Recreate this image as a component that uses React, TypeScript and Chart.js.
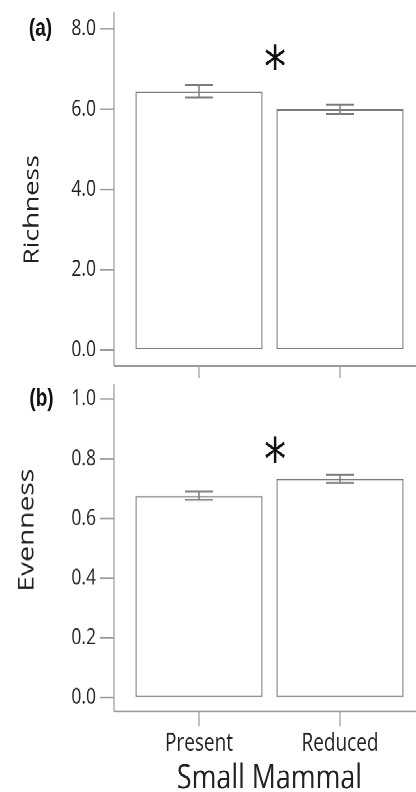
import React, { useEffect, useRef } from 'react';
import { Chart, registerables } from 'chart.js';

Chart.register(...registerables);

// ---------- data ----------
const CATEGORIES = ['Present', 'Reduced'];

const RICHNESS = [6.45, 6.0];
const RICHNESS_LOW = [6.3, 5.88];
const RICHNESS_HIGH = [6.6, 6.12];
const RICHNESS_TICKS = [0, 2, 4, 6, 8];

const EVENNESS = [0.675, 0.733];
const EVENNESS_LOW = [0.662, 0.719];
const EVENNESS_HIGH = [0.69, 0.747];
const EVENNESS_TICKS = [0, 0.2, 0.4, 0.6, 0.8, 1.0];

// significance marker: x (category index space) and y (value)
const SIG_X = 0.54;
const RICHNESS_SIG_Y = 7.3;
const EVENNESS_SIG_Y = 0.832;

const X_TITLE = 'Small Mammal';

// ---------- layout ----------
const S = 1.28; // vertical stretch of the reference
const W = 416;
const TOTAL_H = 792 / S;
const r = (y: number) => y / S;
const AREA_LEFT = 128.5;
const AREA_RIGHT = 410.5;
const AXIS_X = 114;
const TICK_LEN = 14;
const FONT = "'Open Sans', sans-serif";
const TEXT = '#222222';
const AXIS_COLOR = '#9a9a9a';
const BAR_BORDER = '#7c7c7c';
const ERR_COLOR = '#7c7c7c';

const A_TOP = 0;
const A_H = 298;
const B_TOP = 298;
const B_H = TOTAL_H - B_TOP;

const PANELS = [
  {
    key: 'a',
    top: A_TOP,
    height: A_H,
    values: RICHNESS,
    low: RICHNESS_LOW,
    high: RICHNESS_HIGH,
    ticks: RICHNESS_TICKS,
    min: 0,
    max: 8,
    sigY: RICHNESS_SIG_Y,
    areaTop: r(29) - A_TOP,
    areaBottom: r(350) - A_TOP,
    axisTop: r(12) - A_TOP,
    frame: r(366) - A_TOP,
    tickEnd: r(378) - A_TOP,
    label: '(a)',
    labelX: 40.5,
    labelY: r(29) - A_TOP,
    title: 'Richness',
    titleX: 32.5,
    titleY: r(210) - A_TOP,
    titleSize: 21,
    showX: false,
  },
  {
    key: 'b',
    top: B_TOP,
    height: B_H,
    values: EVENNESS,
    low: EVENNESS_LOW,
    high: EVENNESS_HIGH,
    ticks: EVENNESS_TICKS,
    min: 0,
    max: 1,
    sigY: EVENNESS_SIG_Y,
    areaTop: r(399) - B_TOP,
    areaBottom: r(697) - B_TOP,
    axisTop: r(384) - B_TOP,
    frame: r(711) - B_TOP,
    tickEnd: r(726) - B_TOP,
    label: '(b)',
    labelX: 41.5,
    labelY: r(399) - B_TOP,
    title: 'Evenness',
    titleX: 27,
    titleY: r(530) - B_TOP,
    titleSize: 22,
    showX: true,
  },
];

type PanelCfg = (typeof PANELS)[number];

function line(ctx: CanvasRenderingContext2D, x1: number, y1: number, x2: number, y2: number) {
  ctx.beginPath();
  ctx.moveTo(x1, y1);
  ctx.lineTo(x2, y2);
  ctx.stroke();
}

function makeDecor(p: PanelCfg) {
  return {
    id: 'decor_' + p.key,
    afterDraw(chart: any) {
      const ctx = chart.ctx as CanvasRenderingContext2D;
      const xs = chart.scales.x;
      const ys = chart.scales.y;
      ctx.save();
      // axis lines
      ctx.strokeStyle = AXIS_COLOR;
      ctx.lineWidth = 1.2;
      line(ctx, AXIS_X, p.axisTop, AXIS_X, p.frame);
      line(ctx, AXIS_X, p.frame, W, p.frame);
      // y tick marks
      for (const v of p.ticks) {
        const y = ys.getPixelForValue(v);
        line(ctx, AXIS_X - TICK_LEN, y, AXIS_X, y);
      }
      // x tick marks
      CATEGORIES.forEach((_, i) => {
        const x = xs.getPixelForValue(i);
        line(ctx, x, p.frame, x, p.tickEnd);
      });

      // error bars
      ctx.strokeStyle = ERR_COLOR;
      ctx.lineWidth = 1.5;
      CATEGORIES.forEach((_, i) => {
        const x = xs.getPixelForValue(i);
        const yl = ys.getPixelForValue(p.low[i]);
        const yh = ys.getPixelForValue(p.high[i]);
        line(ctx, x, yl, x, yh);
        line(ctx, x - 14, yl, x + 14, yl);
        line(ctx, x - 14, yh, x + 14, yh);
      });

      // significance asterisk
      ctx.fillStyle = '#111111';
      ctx.font = `40px 'DejaVu Sans'`;
      let m = ctx.measureText('*');
      const bw = m.actualBoundingBoxLeft + m.actualBoundingBoxRight || 20;
      const size = (40 * 20) / bw;
      ctx.font = `${size}px 'DejaVu Sans'`;
      m = ctx.measureText('*');
      ctx.textAlign = 'center';
      ctx.textBaseline = 'alphabetic';
      const sx = xs.getPixelForValue(SIG_X);
      const sy = ys.getPixelForValue(p.sigY);
      ctx.fillText('*', sx, sy + (m.actualBoundingBoxAscent - m.actualBoundingBoxDescent) / 2);

      // panel label
      ctx.fillStyle = '#111111';
      ctx.font = `bold 19px 'Liberation Sans', Arial, sans-serif`;
      ctx.textAlign = 'center';
      ctx.textBaseline = 'middle';
      ctx.fillText(p.label, p.labelX, p.labelY);

      // y title
      ctx.translate(p.titleX, p.titleY);
      ctx.rotate(-Math.PI / 2);
      ctx.fillStyle = TEXT;
      ctx.font = `${p.titleSize}px ${FONT}`;
      ctx.textAlign = 'center';
      ctx.textBaseline = 'middle';
      ctx.fillText(p.title, 0, 0);
      ctx.restore();
    },
  };
}

function Panel({ p }: { p: PanelCfg }) {
  const ref = useRef<HTMLCanvasElement>(null);
  useEffect(() => {
    const chart = new Chart(ref.current as HTMLCanvasElement, {
      type: 'bar',
      data: {
        labels: CATEGORIES,
        datasets: [
          {
            data: p.values,
            backgroundColor: '#ffffff',
            borderColor: BAR_BORDER,
            borderWidth: 1.2,
            borderSkipped: false,
            barPercentage: 0.9,
            categoryPercentage: 1,
          },
        ],
      },
      options: {
        animation: false,
        responsive: true,
        maintainAspectRatio: false,
        devicePixelRatio: 2,
        layout: {
          autoPadding: false,
          padding: { top: p.areaTop, right: W - AREA_RIGHT, left: 0, bottom: 0 },
        },
        plugins: { legend: { display: false }, tooltip: { enabled: false } },
        scales: {
          x: {
            type: 'category',
            offset: true,
            grid: {
              display: true,
              drawOnChartArea: false,
              drawTicks: true,
              tickLength: 24.5,
              color: 'rgba(0,0,0,0)',
            },
            border: { display: false },
            ticks: {
              display: p.showX,
              font: { family: FONT, size: 19 },
              color: TEXT,
              padding: 0,
              maxRotation: 0,
              autoSkip: false,
            },
            title: {
              display: p.showX,
              text: X_TITLE,
              color: TEXT,
              font: { family: FONT, size: 26.8, lineHeight: 1 },
              padding: { top: 0, bottom: -2.4 },
            },
            afterFit: (s: any) => {
              s.height = p.height - p.areaBottom;
            },
          },
          y: {
            min: p.min,
            max: p.max,
            afterBuildTicks: (s: any) => {
              s.ticks = p.ticks.map((v) => ({ value: v }));
            },
            grid: {
              display: true,
              drawOnChartArea: false,
              drawTicks: true,
              tickLength: 32.5,
              color: 'rgba(0,0,0,0)',
            },
            border: { display: false },
            ticks: {
              font: { family: FONT, size: 17.5 },
              color: TEXT,
              padding: 0,
              callback: (v: any) => Number(v).toFixed(1),
            },
            afterFit: (s: any) => {
              s.width = AREA_LEFT;
            },
          },
        },
      } as any,
      plugins: [makeDecor(p)],
    });
    return () => chart.destroy();
  }, []);
  return (
    <div style={{ position: 'absolute', left: 0, top: p.top, width: W, height: p.height }}>
      <canvas ref={ref} />
    </div>
  );
}

export default function App() {
  return (
    <div
      style={{
        position: 'absolute',
        left: 0,
        top: 0,
        width: W,
        height: TOTAL_H,
        transform: `scaleY(${S})`,
        transformOrigin: 'top left',
        background: '#ffffff',
      }}
    >
      {PANELS.map((p) => (
        <Panel key={p.key} p={p} />
      ))}
    </div>
  );
}
